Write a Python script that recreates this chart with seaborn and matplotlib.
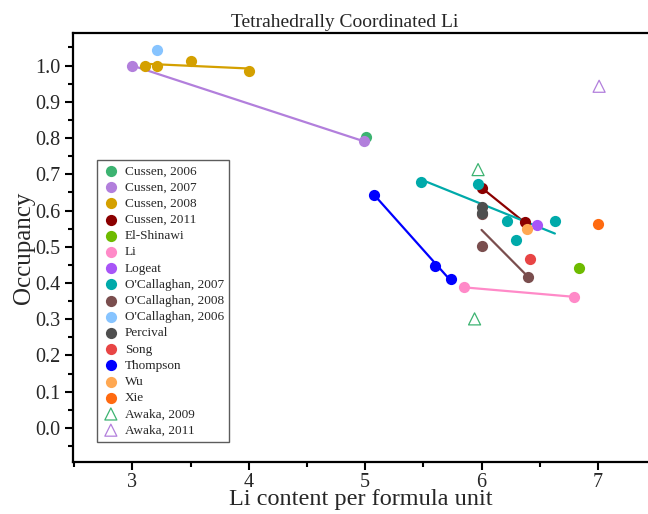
import matplotlib
matplotlib.use("Agg")
import matplotlib.pyplot as plt
from matplotlib.ticker import MultipleLocator
import seaborn as sns
import pandas as pd

sns.set_theme(style="white")
plt.rcParams["font.family"] = ["Liberation Serif", "DejaVu Serif"]

# ---- data ----
series_names = [
    "Cussen, 2006", "Cussen, 2007", "Cussen, 2008", "Cussen, 2011", "El-Shinawi",
    "Li", "Logeat", "O'Callaghan, 2007", "O'Callaghan, 2008", "O'Callaghan, 2006",
    "Percival", "Song", "Thompson", "Wu", "Xie", "Awaka, 2009", "Awaka, 2011",
]
series_x = [
    [5.01],
    [3.00, 4.99],
    [3.11, 3.21, 3.50, 4.00],
    [6.00, 6.37],
    [6.84],
    [5.85, 6.79],
    [6.48],
    [5.48, 5.97, 6.22, 6.30, 6.63],
    [6.00, 6.00, 6.40],
    [3.21],
    [6.00, 6.00],
    [6.42],
    [5.08, 5.60, 5.74],
    [6.39],
    [7.00],
    [5.97, 5.94],
    [7.01],
]
series_y = [
    [0.803],
    [1.000, 0.791],
    [1.000, 1.000, 1.014, 0.986],
    [0.663, 0.567],
    [0.442],
    [0.388, 0.362],
    [0.559],
    [0.680, 0.674, 0.570, 0.519, 0.570],
    [0.503, 0.590, 0.417],
    [1.044],
    [0.611, 0.593],
    [0.467],
    [0.644, 0.447, 0.411],
    [0.549],
    [0.563],
    [0.713, 0.301],
    [0.943],
]
series_colors = [
    "#3CB371", "#B27FDC", "#D4A000", "#8B0000", "#6EBB00",
    "#FF8AC8", "#A855F7", "#00AAAA", "#7A4E4E", "#87C4FF",
    "#4F4F4F", "#E84545", "#0000FF", "#FFA852", "#FF6A10",
    "#3CB371", "#B27FDC",
]
open_triangle = ["Awaka, 2009", "Awaka, 2011"]
fitted = ["Cussen, 2007", "Cussen, 2008", "Cussen, 2011", "Li",
          "O'Callaghan, 2007", "O'Callaghan, 2008", "Thompson"]

title = "Tetrahedrally Coordinated Li"
x_label = "Li content per formula unit"
y_label = "Occupancy"

# ---- figure ----
fig = plt.figure(figsize=(6.48, 5.14), dpi=100)
ax = fig.add_axes([73 / 648, 52 / 514, 1 - 73 / 648, (462 - 33) / 514])

for name, xs, ys, col in zip(series_names, series_x, series_y, series_colors):
    df = pd.DataFrame({"x": xs, "y": ys})
    if name in fitted:
        sns.regplot(data=df, x="x", y="y", ax=ax, scatter=False, ci=None,
                    truncate=True, color=col, line_kws={"lw": 1.6, "label": "_nolegend_"})
    if name in open_triangle:
        sns.scatterplot(data=df, x="x", y="y", ax=ax, marker="^", s=75,
                        facecolor="none", edgecolor=col, linewidth=0.9,
                        label=name, legend=False, zorder=3)
    else:
        sns.scatterplot(data=df, x="x", y="y", ax=ax, marker="o", s=65,
                        color=col, linewidth=0, label=name, legend=False, zorder=3)

ax.set_xlim(2.49, 7.43)
ax.set_ylim(-0.094, 1.09)
ax.xaxis.set_major_locator(MultipleLocator(1))
ax.xaxis.set_minor_locator(MultipleLocator(0.5))
ax.yaxis.set_major_locator(MultipleLocator(0.1))
ax.yaxis.set_minor_locator(MultipleLocator(0.05))
ax.yaxis.set_major_formatter(plt.FormatStrFormatter("%.1f"))

ax.tick_params(axis="both", which="major", direction="out", length=6, width=1.5,
               labelsize=14.5, bottom=True, left=True, top=False, right=False,
               color="black", pad=3)
ax.tick_params(axis="x", which="major", pad=2)
ax.tick_params(axis="both", which="minor", direction="out", length=3.5, width=1.5,
               bottom=True, left=True, top=False, right=False, color="black")

for side in ["left", "bottom", "top"]:
    ax.spines[side].set_visible(True)
    ax.spines[side].set_color("black")
    ax.spines[side].set_linewidth(1.6)
ax.spines["right"].set_visible(False)

ax.set_xlabel(x_label, fontsize=17.5, labelpad=-2)
ax.set_ylabel(y_label, fontsize=18, labelpad=0)
ax.set_title(title, fontsize=14, x=(345 - 73) / 575, pad=4)

leg = ax.legend(loc="upper left", bbox_to_anchor=((97 - 73) / 575, (462 - 160) / 429),
                fontsize=9.5, frameon=True, fancybox=False, borderpad=0.4,
                labelspacing=0.3, handletextpad=0.4, handlelength=1.3,
                borderaxespad=0, markerscale=1.0)
leg.get_frame().set_edgecolor("#333333")
leg.get_frame().set_linewidth(1.0)

fig.savefig("out.png", dpi=100)
